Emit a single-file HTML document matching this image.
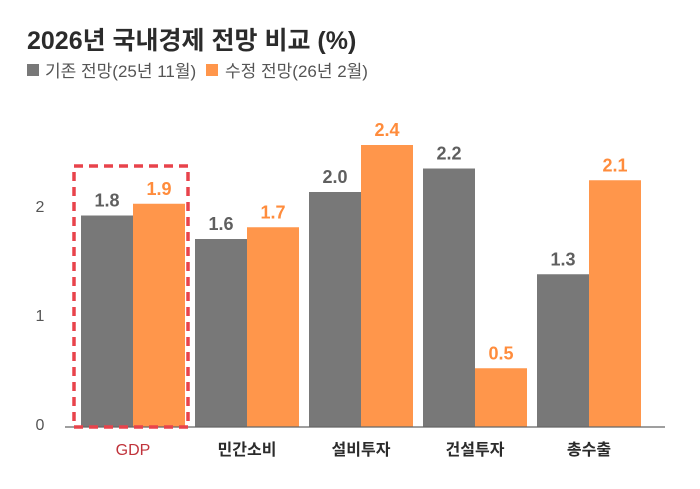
<!DOCTYPE html>
<html><head><meta charset="utf-8"><style>
body{margin:0;background:#fff;width:700px;height:484px;overflow:hidden;font-family:"Liberation Sans","Noto Sans CJK KR",sans-serif}
</style></head><body>
<svg width="700" height="484" style="font-family:'Liberation Sans','Noto Sans CJK KR',sans-serif">
<text x="27" y="49" font-size="25" font-weight="bold" fill="#2b2b2b">2026년 국내경제 전망 비교 (%)</text>
<rect x="27" y="64" width="12" height="12" fill="#787878"/>
<text x="45" y="77" font-size="17" fill="#555">기존 전망(25년 11월)</text>
<rect x="206" y="64" width="12" height="12" fill="#ff964b"/>
<text x="225" y="77" font-size="17" fill="#555">수정 전망(26년 2월)</text>
<g id="ticks"></g>
<g id="bars"></g>
<line x1="65" y1="427" x2="665" y2="427" stroke="#666" stroke-width="1.2"/>
<rect x="74" y="166" width="114" height="261" fill="none" stroke="#e8434b" stroke-width="3.5" stroke-dasharray="9,6"/>
</svg>
<script>
const categories=["GDP","민간소비","설비투자","건설투자","총수출"];
const prevValues=[1.8,1.6,2.0,2.2,1.3];
const revValues=[1.9,1.7,2.4,0.5,2.1];
const tickValues=[0,1,2];
const NS="http://www.w3.org/2000/svg";
const base=427, scale=117.5;
const y=v=>base-v*scale;
const tickY=v=>424-109*v;
const xg=i=>81+i*114;
const bw=52;
function mk(tag,attrs,parent,txt){const e=document.createElementNS(NS,tag);for(const k in attrs)e.setAttribute(k,attrs[k]);if(txt!==undefined)e.textContent=txt;parent.appendChild(e);return e;}
const tg=document.getElementById('ticks'), bg=document.getElementById('bars');
tickValues.forEach(t=>{
  const el=mk('text',{x:40,y:tickY(t)+6,'font-size':16,fill:'#555','text-anchor':'middle'},tg,String(t));
  
  
});
categories.forEach((c,i)=>{
  const x0=xg(i);
  const r1=mk('rect',{x:x0,y:y(prevValues[i]),width:bw,height:prevValues[i]*scale,fill:'#787878'},bg);
  
  
  const r2=mk('rect',{x:x0+bw,y:y(revValues[i]),width:bw,height:revValues[i]*scale,fill:'#ff964b'},bg);
  
  
  const l1=mk('text',{x:x0+bw/2,y:y(prevValues[i])-9,'font-size':18,'font-weight':'bold',fill:'#5f5f5f','text-anchor':'middle'},bg,prevValues[i].toFixed(1));
  
  
  const l2=mk('text',{x:x0+bw*1.5,y:y(revValues[i])-9,'font-size':18,'font-weight':'bold',fill:'#ff8c3c','text-anchor':'middle'},bg,revValues[i].toFixed(1));
  
  
  const cl=mk('text',{x:x0+bw,y:455,'font-size':16,'font-weight':i===0?'normal':'bold',fill:i===0?'#c0333b':'#2b2b2b','text-anchor':'middle'},bg,c);
  
  
});
</script>
</body></html>
